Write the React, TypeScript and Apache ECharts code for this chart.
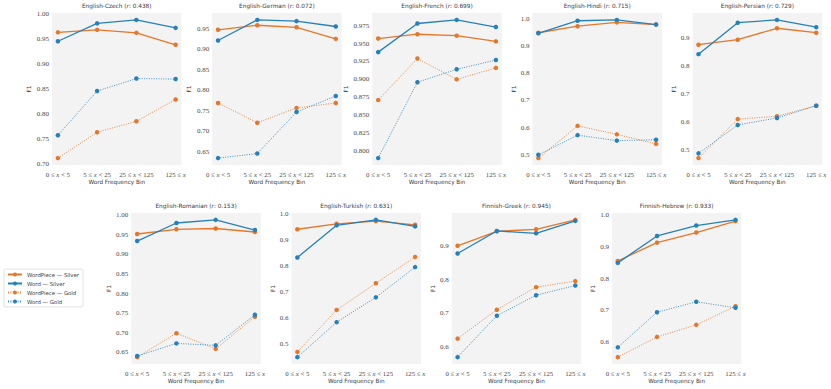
import React, { useEffect, useRef } from "react";
import * as echarts from "echarts";

const pairs = [
  "English-Czech", "English-German", "English-French", "English-Hindi", "English-Persian",
  "English-Romanian", "English-Turkish", "Finnish-Greek", "Finnish-Hebrew",
];
const rValues = ["0.438", "0.072", "0.699", "0.715", "0.729", "0.153", "0.631", "0.945", "0.933"];
const categories = ["0 ≤ x < 5", "5 ≤ x < 25", "25 ≤ x < 125", "125 ≤ x"];
const seriesNames = ["WordPiece — Silver", "Word — Silver", "WordPiece — Gold", "Word — Gold"];

const wordpieceSilver = [
  [0.964, 0.969, 0.963, 0.939],
  [0.947, 0.958, 0.953, 0.925],
  [0.957, 0.963, 0.961, 0.953],
  [0.948, 0.972, 0.986, 0.978],
  [0.877, 0.895, 0.936, 0.92],
  [0.952, 0.964, 0.966, 0.957],
  [0.94, 0.961, 0.971, 0.957],
  [0.901, 0.944, 0.95, 0.978],
  [0.856, 0.914, 0.946, 0.982],
];
const wordSilver = [
  [0.946, 0.982, 0.989, 0.973],
  [0.921, 0.971, 0.968, 0.955],
  [0.938, 0.978, 0.983, 0.973],
  [0.946, 0.992, 0.995, 0.978],
  [0.843, 0.956, 0.966, 0.94],
  [0.934, 0.98, 0.988, 0.962],
  [0.832, 0.955, 0.976, 0.951],
  [0.878, 0.945, 0.938, 0.975],
  [0.85, 0.935, 0.968, 0.986],
];
const wordpieceGold = [
  [0.711, 0.763, 0.785, 0.829],
  [0.769, 0.721, 0.757, 0.769],
  [0.871, 0.929, 0.9, 0.916],
  [0.489, 0.607, 0.576, 0.541],
  [0.47, 0.61, 0.62, 0.658],
  [0.638, 0.699, 0.659, 0.741],
  [0.47, 0.631, 0.733, 0.834],
  [0.625, 0.711, 0.778, 0.796],
  [0.552, 0.616, 0.654, 0.713],
];
const wordGold = [
  [0.757, 0.846, 0.871, 0.87],
  [0.635, 0.646, 0.747, 0.786],
  [0.79, 0.896, 0.914, 0.927],
  [0.501, 0.573, 0.553, 0.556],
  [0.487, 0.589, 0.614, 0.658],
  [0.641, 0.673, 0.668, 0.746],
  [0.45, 0.584, 0.679, 0.795],
  [0.57, 0.693, 0.754, 0.783],
  [0.583, 0.694, 0.727, 0.708],
];

const yTicks = [
  [0.7, 0.75, 0.8, 0.85, 0.9, 0.95, 1.0],
  [0.65, 0.7, 0.75, 0.8, 0.85, 0.9, 0.95],
  [0.8, 0.825, 0.85, 0.875, 0.9, 0.925, 0.95, 0.975],
  [0.5, 0.6, 0.7, 0.8, 0.9, 1.0],
  [0.5, 0.6, 0.7, 0.8, 0.9],
  [0.65, 0.7, 0.75, 0.8, 0.85, 0.9, 0.95, 1.0],
  [0.5, 0.6, 0.7, 0.8, 0.9, 1.0],
  [0.6, 0.7, 0.8, 0.9],
  [0.6, 0.7, 0.8, 0.9, 1.0],
];
const yDecimals = [2, 2, 3, 1, 1, 2, 1, 1, 1];

const ORANGE = "#e5772a";
const BLUE = "#2580bb";
const SANS = "DejaVu Sans";
const SERIF = "Liberation Serif";
const TICK_COLOR = "#4a4a4a";

function gridRect(i: number) {
  if (i < 5) return { left: 52 + 160.15 * i, top: 13, width: 129.5, height: 152 };
  const j = i - 5;
  return { left: 131.3 + 160.2 * j, top: 213, width: 129.5, height: 151 };
}
const nameGaps = [20, 20, 23, 15.5, 16, 19, 16, 16, 15.5];

export default function App() {
  const ref = useRef<HTMLDivElement>(null);
  useEffect(() => {
    if (!ref.current) return;
    const chart = echarts.init(ref.current, null, { renderer: "svg" });
    const grids: any[] = [];
    const xAxes: any[] = [];
    const yAxes: any[] = [];
    const titles: any[] = [];
    const series: any[] = [];
    const sets = [wordpieceSilver, wordSilver, wordpieceGold, wordGold];
    const titleBase = { fontFamily: SANS, fontSize: 5.8, fontWeight: "normal", color: "#3c3c3c" };
    pairs.forEach((p, i) => {
      const r = gridRect(i);
      grids.push({
        ...r,
        show: true,
        backgroundColor: "#f3f3f3",
        borderWidth: 0,
        containLabel: false,
      });
      titles.push({
        text: `{n|${p} (}{i|r}{n|: ${rValues[i]})}`,
        left: r.left + r.width / 2,
        top: r.top - 10,
        textAlign: "center",
        padding: 0,
        textStyle: {
          ...titleBase,
          rich: {
            n: { ...titleBase },
            i: { ...titleBase, fontStyle: "italic" },
          },
        },
      });
      xAxes.push({
        gridIndex: i,
        type: "value",
        min: -0.15,
        max: 3.15,
        name: "Word Frequency Bin",
        nameLocation: "middle",
        nameGap: 13.5,
        nameTextStyle: { fontFamily: SANS, fontSize: 5.7, color: "#3c3c3c" },
        axisLine: { show: false },
        axisTick: { show: false },
        splitLine: { show: false },
        axisLabel: {
          customValues: [0, 1, 2, 3],
          margin: 5.5,
          fontFamily: SERIF,
          fontSize: 6.8,
          color: TICK_COLOR,
          formatter: (v: number) => {
            const [a, b] = categories[Math.round(v)].split(" x");
            return `{n|${a} }{i|x}{n|${b}}`;
          },
          rich: {
            n: { fontFamily: SERIF, fontSize: 6.8, color: TICK_COLOR },
            i: { fontFamily: SERIF, fontSize: 6.8, fontStyle: "italic", color: TICK_COLOR },
          },
        },
      });
      const all = sets.flatMap((s) => s[i]);
      const dmin = Math.min(...all);
      const dmax = Math.max(...all);
      const pad = (dmax - dmin) * 0.05;
      yAxes.push({
        gridIndex: i,
        type: "value",
        min: dmin - pad,
        max: dmax + pad,
        name: "F1",
        nameLocation: "middle",
        nameRotate: 90,
        nameGap: nameGaps[i],
        nameTextStyle: { fontFamily: SANS, fontSize: 5.8, color: "#3c3c3c" },
        axisLine: { show: false },
        axisTick: { show: false },
        splitLine: { show: false },
        axisLabel: {
          customValues: yTicks[i],
          margin: 3,
          fontFamily: SERIF,
          fontSize: 7,
          color: TICK_COLOR,
          formatter: (v: number) => v.toFixed(yDecimals[i]),
        },
      });
      sets.forEach((s, k) => {
        const color = k % 2 === 0 ? ORANGE : BLUE;
        const gold = k >= 2;
        series.push({
          name: seriesNames[k],
          type: "line",
          xAxisIndex: i,
          yAxisIndex: i,
          data: s[i].map((v, c) => [c, v]),
          symbol: "circle",
          symbolSize: 4.5,
          itemStyle: { color },
          lineStyle: gold
            ? { color, width: 1, type: [1, 1.4], opacity: 0.85 }
            : { color, width: 1.3, type: "solid" },
          emphasis: { disabled: true },
          z: 2 + k,
        });
      });
    });
    chart.setOption({
      animation: false,
      title: titles,
      grid: grids,
      xAxis: xAxes,
      yAxis: yAxes,
      series,
      legend: {
        data: seriesNames,
        orient: "vertical",
        left: 4,
        top: 269,
        itemWidth: 14,
        itemHeight: 5,
        itemGap: 4,
        padding: [3, 4, 3, 3],
        backgroundColor: "#ffffff",
        borderColor: "#d4d4d4",
        borderWidth: 0.7,
        borderRadius: 2,
        selectedMode: false,
        textStyle: { fontFamily: SANS, fontSize: 5.4, color: "#3c3c3c" },
      },
    });
    return () => chart.dispose();
  }, []);
  return (
    <div
      ref={ref}
      style={{ position: "fixed", left: 0, top: 0, width: 831, height: 389, background: "#fff" }}
    />
  );
}
